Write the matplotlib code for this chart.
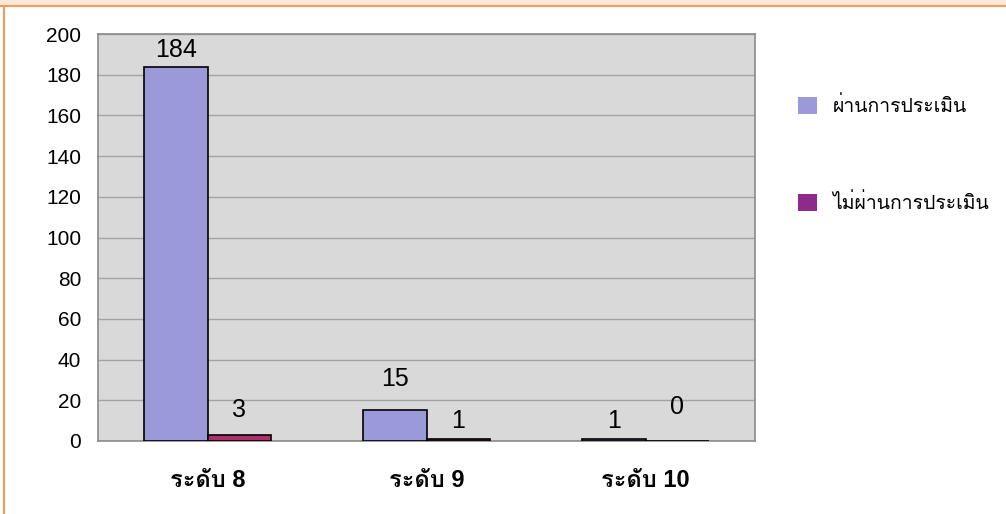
import matplotlib
matplotlib.use("Agg")
import matplotlib.pyplot as plt
from matplotlib import font_manager
from matplotlib.ft2font import FT2Font
from matplotlib.patches import Rectangle

categories = ["ระดับ 8", "ระดับ 9", "ระดับ 10"]
series_names = ["ผ่านการประเมิน", "ไม่ผ่านการประเมิน"]
passed = [184, 15, 1]
failed = [3, 1, 0]
yticks = [0, 20, 40, 60, 80, 100, 120, 140, 160, 180, 200]

# label lift above each bar, in points
passed_lift = [3, 14, 4]
failed_lift = [9, 4, 16]


def thai_fonts():
    found = []
    for f in font_manager.fontManager.ttflist:
        try:
            cmap = FT2Font(f.fname).get_charmap()
        except Exception:
            continue
        if 0x0E23 in cmap and f.name not in found:
            found.append(f.name)
    return found


thai = thai_fonts()
fam = ["Liberation Sans"] + thai + ["DejaVu Sans"]
plt.rcParams["font.family"] = fam

fig = plt.figure(figsize=(10.06, 5.14), dpi=100)
fig.patch.set_facecolor("white")

# page frame: peach strip at top, orange rules
fig.patches.append(Rectangle((0, 1 - 5 / 514), 1, 5 / 514, transform=fig.transFigure,
                             facecolor="#fde9d9", edgecolor="none"))
fig.lines.append(plt.Line2D([0, 1], [1 - 6 / 514, 1 - 6 / 514], transform=fig.transFigure,
                            color="#f79a5a", lw=1.5))
fig.lines.append(plt.Line2D([4 / 1006, 4 / 1006], [0, 1 - 6 / 514], transform=fig.transFigure,
                            color="#f79a5a", lw=1.5))

left, right, top, bottom = 98, 755, 34, 441
ax = fig.add_axes([left / 1006, 1 - bottom / 514, (right - left) / 1006, (bottom - top) / 514])
ax.set_facecolor("#d9d9d9")

x = list(range(len(categories)))
w = 0.29
b1 = ax.bar([i - w / 2 for i in x], passed, w, color="#9a9ad8", edgecolor="black", lw=1.2,
            label=series_names[0], zorder=3)
b2 = ax.bar([i + w / 2 for i in x], failed, w, color="#ad306c", edgecolor="black", lw=1.2,
            label=series_names[1], zorder=3)

for i in x:
    ax.annotate(str(passed[i]), (i - w / 2, passed[i]), xytext=(0, passed_lift[i]),
                textcoords="offset points", ha="center", va="bottom", fontsize=18)
    ax.annotate(str(failed[i]), (i + w / 2, failed[i]), xytext=(0, failed_lift[i]),
                textcoords="offset points", ha="center", va="bottom", fontsize=18)

ax.set_xlim(-0.5, 2.5)
ax.set_ylim(0, 200)
ax.set_yticks(yticks)
ax.set_yticklabels([str(v) for v in yticks], fontsize=15)
ax.set_xticks(x)
ax.set_xticklabels(categories, fontsize=17, fontweight="bold")
ax.tick_params(axis="y", length=0, pad=12)
ax.tick_params(axis="x", length=0, pad=20)
ax.grid(axis="y", color="#a3a3a3", lw=1, zorder=1)
for s in ax.spines.values():
    s.set_color("#8a8a8a")
    s.set_linewidth(1.2)

leg = fig.legend(handles=[b1, b2], loc="upper left", bbox_to_anchor=(780 / 1006, 1 - 79 / 514),
                 frameon=False, fontsize=14, handlelength=1.0, handleheight=1.0,
                 labelspacing=3.95, handletextpad=0.8)
for h in leg.legend_handles:
    h.set_edgecolor("none")
leg.legend_handles[1].set_facecolor("#8e2a8a")

fig.savefig("out.png", dpi=100)
